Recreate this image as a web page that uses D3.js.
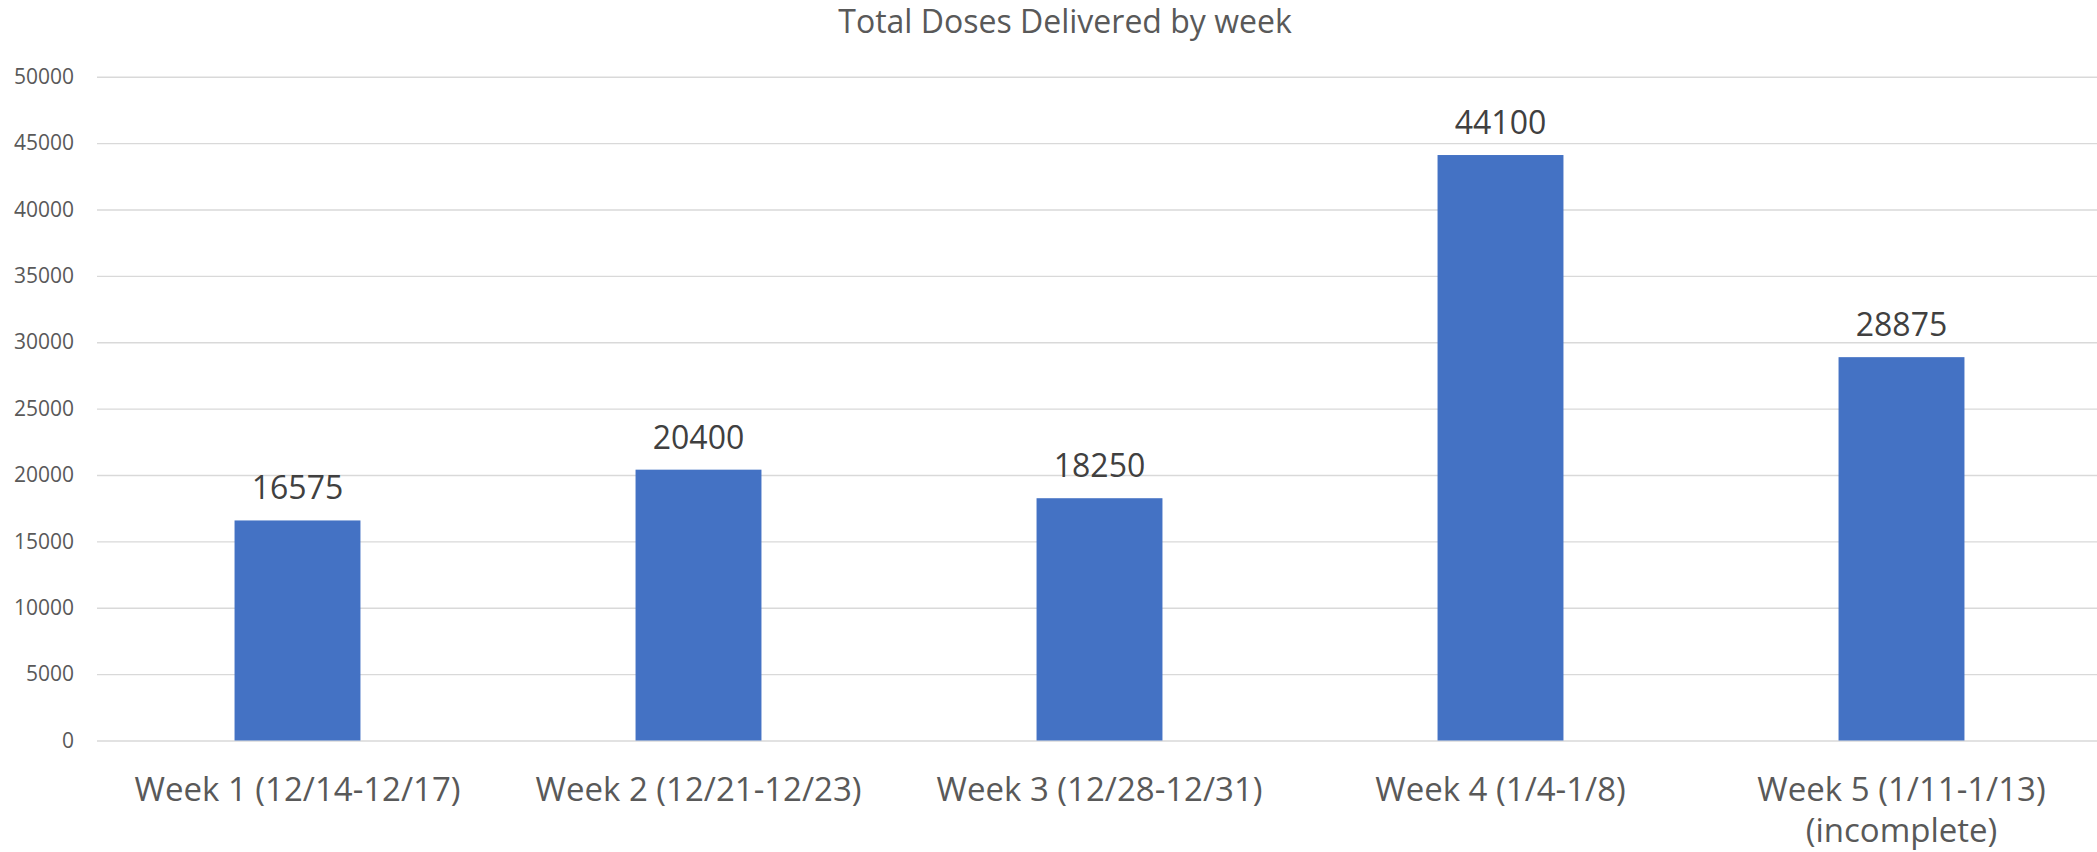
<!DOCTYPE html>
<html>
<head>
<meta charset="utf-8">
<script src="https://cdn.jsdelivr.net/npm/d3@7"></script>
<style>
  body { margin: 0; background: #fff; }
  svg { display: block; }
  svg text { font-family: "Open Sans", sans-serif; }
</style>
</head>
<body>
<svg id="chart" width="2097" height="852"></svg>
<script>
const weeks = ["Week 1 (12/14-12/17)", "Week 2 (12/21-12/23)", "Week 3 (12/28-12/31)", "Week 4 (1/4-1/8)", "Week 5 (1/11-1/13)\n(incomplete)"];
const doses = [16575, 20400, 18250, 44100, 28875];
const yTicks = [0, 5000, 10000, 15000, 20000, 25000, 30000, 35000, 40000, 45000, 50000];
const title = "Total Doses Delivered by week";

const svg = d3.select("#chart");
const W = +svg.attr("width");
const LEFT = 97, RIGHT = 2102, TOP = 76.7, BOTTOM = 740.5;

const data = weeks.map((w, i) => ({ week: w, value: doses[i] }));

let xScale = d3.scaleBand()
               .domain(weeks)
               .range([LEFT, RIGHT])
               .paddingInner(0.686)
               .paddingOuter(0.343);

let yScale = d3.scaleLinear()
               .domain([0, 50000])
               .range([BOTTOM, TOP]);

// gridlines + y labels
const yAxis = d3.axisLeft(yScale)
                .tickValues(yTicks)
                .tickFormat(d => d)
                .tickSize(-(W - LEFT))
                .tickPadding(23);

const gy = svg.append("g")
              .attr("transform", `translate(${LEFT},0)`)
              .call(yAxis);
gy.select(".domain").remove();
gy.selectAll(".tick line").attr("stroke", "#d9d9d9").attr("stroke-width", 1.4);
gy.selectAll(".tick text")
  .attr("fill", "#595959")
  .style("font-size", "21px");

// bars
svg.append("g")
   .selectAll("rect")
   .data(data)
   .enter()
   .append("rect")
   .attr("x", d => xScale(d.week))
   .attr("y", d => yScale(d.value))
   .attr("width", xScale.bandwidth())
   .attr("height", d => yScale(0) - yScale(d.value))
   .attr("fill", "#4472C4");

// value labels
svg.append("g")
   .selectAll("text")
   .data(data)
   .enter()
   .append("text")
   .attr("x", d => xScale(d.week) + xScale.bandwidth() / 2)
   .attr("y", d => yScale(d.value) - 21)
   .attr("text-anchor", "middle")
   .attr("fill", "#404040")
   .style("font-size", "32px")
   .text(d => d.value);

// x labels
const xAxis = d3.axisBottom(xScale).tickSize(0).tickFormat("");
const gx = svg.append("g")
              .attr("transform", `translate(0,${BOTTOM})`)
              .call(xAxis);
gx.select(".domain").remove();
gx.selectAll(".tick").each(function(d) {
    const t = d3.select(this).append("text")
                .attr("text-anchor", "middle")
                .attr("fill", "#595959")
                .style("font-size", "33px");
    d.split("\n").forEach((line, i) => {
        t.append("tspan")
         .attr("x", 0)
         .attr("y", 60 + i * 41)
         .text(line);
    });
});

// title
svg.append("text")
   .attr("x", 1065)
   .attr("y", 33)
   .attr("text-anchor", "middle")
   .attr("fill", "#595959")
   .style("font-size", "32px")
   .text(title);
</script>
</body>
</html>
